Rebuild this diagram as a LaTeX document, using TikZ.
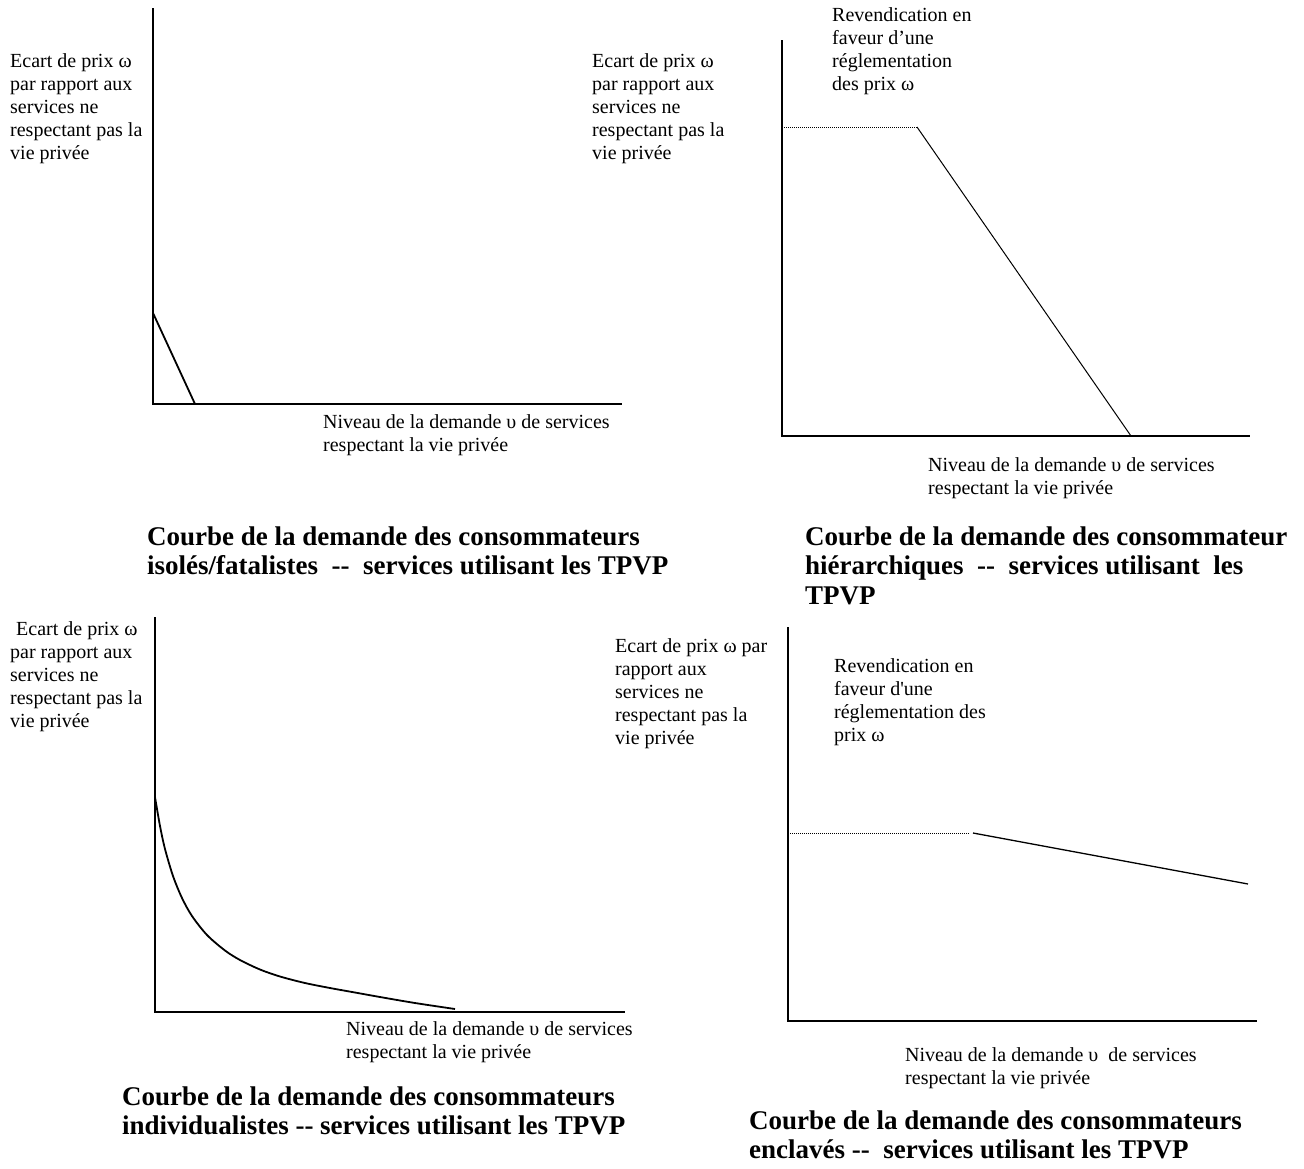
\documentclass[tikz,border=0pt]{standalone}
\usepackage{fontspec}
\newfontfamily\tnr{Liberation Serif}
\newcommand\lbl[1]{\begin{tabular}[t]{@{}l@{}}#1\end{tabular}}
\tikzset{
  txt/.style={anchor=base west, inner sep=0pt, font=\tnr\fontsize{20}{23}\selectfont},
  ttl/.style={anchor=base west, inner sep=0pt, font=\tnr\bfseries\fontsize{27}{29.5}\selectfont},
  axisline/.style={line width=2pt},
  curveline/.style={line width=1.8pt},
  thinline/.style={line width=1pt},
  dotline/.style={line width=1pt, dash pattern=on 1pt off 1pt},
}
\begin{document}
\begin{tikzpicture}[x=1pt,y=-1pt]
\useasboundingbox[fill=white] (0,0) rectangle (1304,1168);

% ---------- Panel 1 : isolés/fatalistes ----------
\coordinate (o1) at (153,404);
\coordinate (t1) at (153,8);
\coordinate (e1) at (622,404);
\coordinate (d1a) at (153,313);
\coordinate (d1b) at (195,404);
\draw[axisline] (t1) -- (o1) -- (e1);
\draw[curveline] (d1a) -- (d1b);
\node[txt] (y1) at (10,67) {\lbl{Ecart de prix ω\\par rapport aux\\services ne\\respectant pas la\\vie privée}};
\node[txt] (x1) at (323,428) {\lbl{Niveau de la demande υ de services\\respectant la vie privée}};
\node[ttl] (c1) at (147,545) {\lbl{Courbe de la demande des consommateurs\\isolés/fatalistes ~--~ services utilisant les TPVP}};

% ---------- Panel 2 : hiérarchiques ----------
\coordinate (o2) at (782,436);
\coordinate (t2) at (782,40);
\coordinate (e2) at (1250,436);
\coordinate (p2) at (782,127);
\coordinate (k2) at (917,127);
\coordinate (z2) at (1131,436);
\draw[axisline] (t2) -- (o2) -- (e2);
\draw[dotline] (p2) -- (k2);
\draw[thinline] (k2) -- (z2);
\node[txt] (y2) at (592,67) {\lbl{Ecart de prix ω\\par rapport aux\\services ne\\respectant pas la\\vie privée}};
\node[txt] (r2) at (832,21) {\lbl{Revendication en\\faveur d’une\\réglementation\\des prix ω}};
\node[txt] (x2) at (928,471) {\lbl{Niveau de la demande υ de services\\respectant la vie privée}};
\begin{scope}
\clip (0,0) rectangle (1287,1168);
\node[ttl] (c2) at (805,545) {\lbl{Courbe de la demande des consommateurs\\hiérarchiques ~--~ services utilisant ~les\\TPVP}};
\end{scope}

% ---------- Panel 3 : individualistes ----------
\coordinate (o3) at (155,1012);
\coordinate (t3) at (155,617);
\coordinate (e3) at (625,1012);
\draw[axisline] (t3) -- (o3) -- (e3);
\draw[curveline] plot[smooth, tension=0.5] coordinates {(155,797) (160,826) (165,849) (173,876) (182,898) (192,916) (207,935) (225,950.5) (240,960) (260,969.5) (280,976.5) (305,983) (330,988) (355,992.5) (380,997) (415,1003) (455,1009)};
\node[txt] (y3) at (10,635) {\lbl{\hspace*{6pt}Ecart de prix ω\\par rapport aux\\services ne\\respectant pas la\\vie privée}};
\node[txt] (x3) at (346,1035) {\lbl{Niveau de la demande υ de services\\respectant la vie privée}};
\node[ttl] (c3) at (122,1105) {\lbl{Courbe de la demande des consommateurs\\individualistes -- services utilisant les TPVP}};

% ---------- Panel 4 : enclavés ----------
\coordinate (o4) at (788,1021);
\coordinate (t4) at (788,627);
\coordinate (e4) at (1257,1021);
\coordinate (p4) at (788,833);
\coordinate (k4) at (970,833);
\coordinate (s4) at (973,833);
\coordinate (z4) at (1248,884);
\draw[axisline] (t4) -- (o4) -- (e4);
\draw[dotline] (p4) -- (k4);
\draw[line width=1.3pt] (s4) -- (z4);
\node[txt] (y4) at (615,652) {\lbl{Ecart de prix ω par\\rapport aux\\services ne\\respectant pas la\\vie privée}};
\node[txt] (r4) at (834,672) {\lbl{Revendication en\\faveur d'une\\réglementation des\\prix ω}};
\node[txt] (x4) at (905,1061) {\lbl{Niveau de la demande υ~ de services\\respectant la vie privée}};
\node[ttl] (c4) at (749,1129) {\lbl{Courbe de la demande des consommateurs\\enclavés --~ services utilisant les TPVP}};
\end{tikzpicture}
\end{document}
